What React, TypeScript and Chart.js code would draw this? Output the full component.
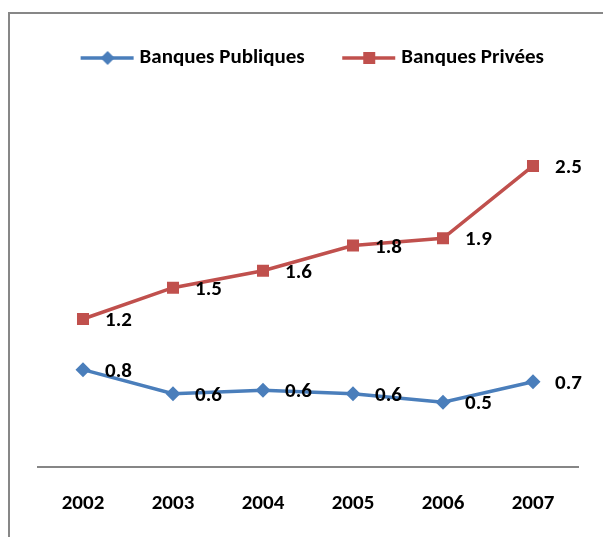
import React, { useEffect, useRef } from "react";
import { Chart, registerables } from "chart.js";

Chart.register(...registerables);

const categories = ["2002", "2003", "2004", "2005", "2006", "2007"];
const seriesNames = ["Banques Publiques", "Banques Privées"];
const publiques = [0.81, 0.61, 0.64, 0.61, 0.54, 0.71];
const privees = [1.23, 1.49, 1.63, 1.84, 1.9, 2.5];
const colors = ["#4A7EBB", "#C0504D"];
const markerStyles = ["rectRot", "rect"];

const FONT = "Carlito, Lato, 'Open Sans', sans-serif";

function legendIcon(color: string, style: string) {
  const c = document.createElement("canvas");
  c.width = 68;
  c.height = 18;
  const ctx = c.getContext("2d")!;
  ctx.strokeStyle = color;
  ctx.lineWidth = 3.5;
  ctx.beginPath();
  ctx.moveTo(14, 9);
  ctx.lineTo(67, 9);
  ctx.stroke();
  ctx.fillStyle = color;
  ctx.beginPath();
  const m = 41;
  if (style === "rectRot") {
    ctx.moveTo(m, 2);
    ctx.lineTo(m + 7, 9);
    ctx.lineTo(m, 16);
    ctx.lineTo(m - 7, 9);
    ctx.closePath();
  } else {
    ctx.rect(m - 6, 3, 12, 12);
  }
  ctx.fill();
  return c;
}

const dataLabels = {
  id: "dataLabels",
  afterDatasetsDraw(chart: any) {
    const ctx = chart.ctx;
    ctx.save();
    ctx.fillStyle = "#000";
    ctx.font = `bold 21px ${FONT}`;
    ctx.textAlign = "left";
    ctx.textBaseline = "middle";
    chart.data.datasets.forEach((ds: any, i: number) => {
      const meta = chart.getDatasetMeta(i);
      meta.data.forEach((pt: any, j: number) => {
        ctx.fillText((ds.data[j] as number).toFixed(1), pt.x + 22, pt.y + 2);
      });
    });
    ctx.restore();
  },
};

export default function App() {
  const ref = useRef<HTMLCanvasElement>(null);
  useEffect(() => {
    const icons = [legendIcon(colors[0], markerStyles[0]), legendIcon(colors[1], markerStyles[1])];
    const chart = new Chart(ref.current!, {
      type: "line",
      data: {
        labels: categories,
        datasets: [
          {
            label: seriesNames[0],
            data: publiques,
            borderColor: colors[0],
            backgroundColor: colors[0],
            borderWidth: 3.5,
            pointStyle: "rectRot",
            pointRadius: 7.5,
            pointBorderWidth: 0,
            pointBackgroundColor: colors[0],
            tension: 0,
          },
          {
            label: seriesNames[1],
            data: privees,
            borderColor: colors[1],
            backgroundColor: colors[1],
            borderWidth: 3.5,
            pointStyle: "rect",
            pointRadius: 8.5,
            pointBorderWidth: 0,
            pointBackgroundColor: colors[1],
            tension: 0,
          },
        ],
      },
      options: {
        animation: false,
        responsive: false,
        layout: { padding: { left: 28, right: 25, top: 4.5, bottom: -3.5 } },
        plugins: {
          tooltip: { enabled: false },
          legend: {
            display: true,
            position: "top",
            labels: {
              usePointStyle: true,
              pointStyleWidth: 57,
              padding: 29,
              color: "#000",
              font: { family: FONT, size: 21, weight: "bold" },
              generateLabels: (ch: any) =>
                ch.data.datasets.map((ds: any, i: number) => ({
                  text: ds.label,
                  pointStyle: icons[i],
                  fillStyle: colors[i],
                  strokeStyle: colors[i],
                  lineWidth: 0,
                  hidden: false,
                  datasetIndex: i,
                  fontColor: "#000",
                })),
            },
          },
        },
        scales: {
          x: {
            offset: true,
            grid: { display: false, drawTicks: false },
            border: { display: true, color: "#868686", width: 2 },
            ticks: {
              padding: 24,
              color: "#000",
              font: { family: FONT, size: 21, weight: "bold" },
            },
          },
          y: {
            display: false,
            min: 0,
            max: 3.225,
          },
        },
      },
      plugins: [dataLabels],
    });
    return () => chart.destroy();
  }, []);
  return (
    <div
      style={{
        position: "absolute",
        left: 8,
        top: 12,
        width: 593,
        height: 525,
        borderTop: "2px solid #878787",
        borderLeft: "2px solid #878787",
        background: "#fff",
      }}
    >
      <canvas ref={ref} width={593} height={523} style={{ display: "block", width: 593, height: 523 }} />
    </div>
  );
}
